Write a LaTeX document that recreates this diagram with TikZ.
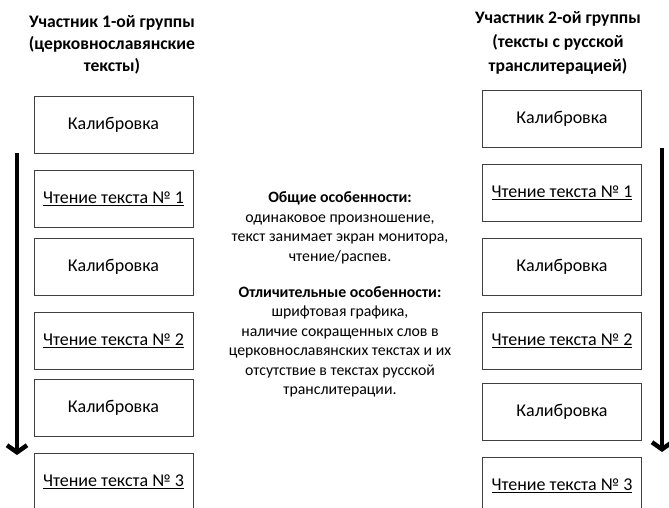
\documentclass[tikz,border=0pt]{standalone}
\usepackage{fontspec}
\setmainfont{Carlito}
\usetikzlibrary{arrows.meta}
\tikzset{
  stage/.style={draw=black!75, line width=0.8pt, minimum width=159pt, minimum height=57pt, inner sep=0pt, font=\fontsize{18}{21}\selectfont},
  head/.style={align=center, font=\bfseries\fontsize{17.6}{22}\selectfont},
  note/.style={align=center, font=\fontsize{15.8}{19.5}\selectfont},
  flow/.style={line width=4.5pt, -{Straight Barb[length=7pt,width=20pt]}}
}
\begin{document}
\begin{tikzpicture}[x=1pt,y=-1pt]
\useasboundingbox (0,0) rectangle (669,508);
% titles
\node[head] (headA) at (112,45) {Участник 1-ой группы\\(церковнославянские\\тексты)};
\node[head, font=\bfseries\fontsize{17.6}{24}\selectfont] (headB) at (558,43) {Участник 2-ой группы\\(тексты с русской\\транслитерацией)};
% stages of both groups
\foreach \n/\y/\t in {
1/124.5/Калибровка, 2/198.5/{\underline{Чтение текста №~1}}, 3/266.5/Калибровка,
4/340.5/{\underline{Чтение текста №~2}}, 5/407.5/Калибровка, 6/481.5/{\underline{Чтение текста №~3}}
}{
\node[stage] (a\n) at (113.5,\y) {\t};
}
\foreach \n/\y/\t in {
1/119/Калибровка, 2/192.5/{\underline{Чтение текста №~1}}, 3/266.5/Калибровка,
4/340.5/{\underline{Чтение текста №~2}}, 5/411.5/Калибровка, 6/485.5/{\underline{Чтение текста №~3}}
}{
\node[stage] (b\n) at (562,\y) {\t};
}
% time arrows
\coordinate (aTop) at (17,153);
\coordinate (aEnd) at (17,455);
\coordinate (bTop) at (662,148);
\coordinate (bEnd) at (662,452);
\draw[flow] (aTop) -- (aEnd);
\draw[flow] (bTop) -- (bEnd);
% features
\node[note] (common) at (340,228) {\textbf{Общие особенности:}\\одинаковое произношение,\\текст занимает экран монитора,\\чтение/распев.};
\node[note] (differ) at (340,342) {\textbf{Отличительные особенности:}\\шрифтовая графика,\\наличие сокращенных слов в\\церковнославянских текстах и их\\отсутствие в текстах русской\\транслитерации.};
\end{tikzpicture}
\end{document}
